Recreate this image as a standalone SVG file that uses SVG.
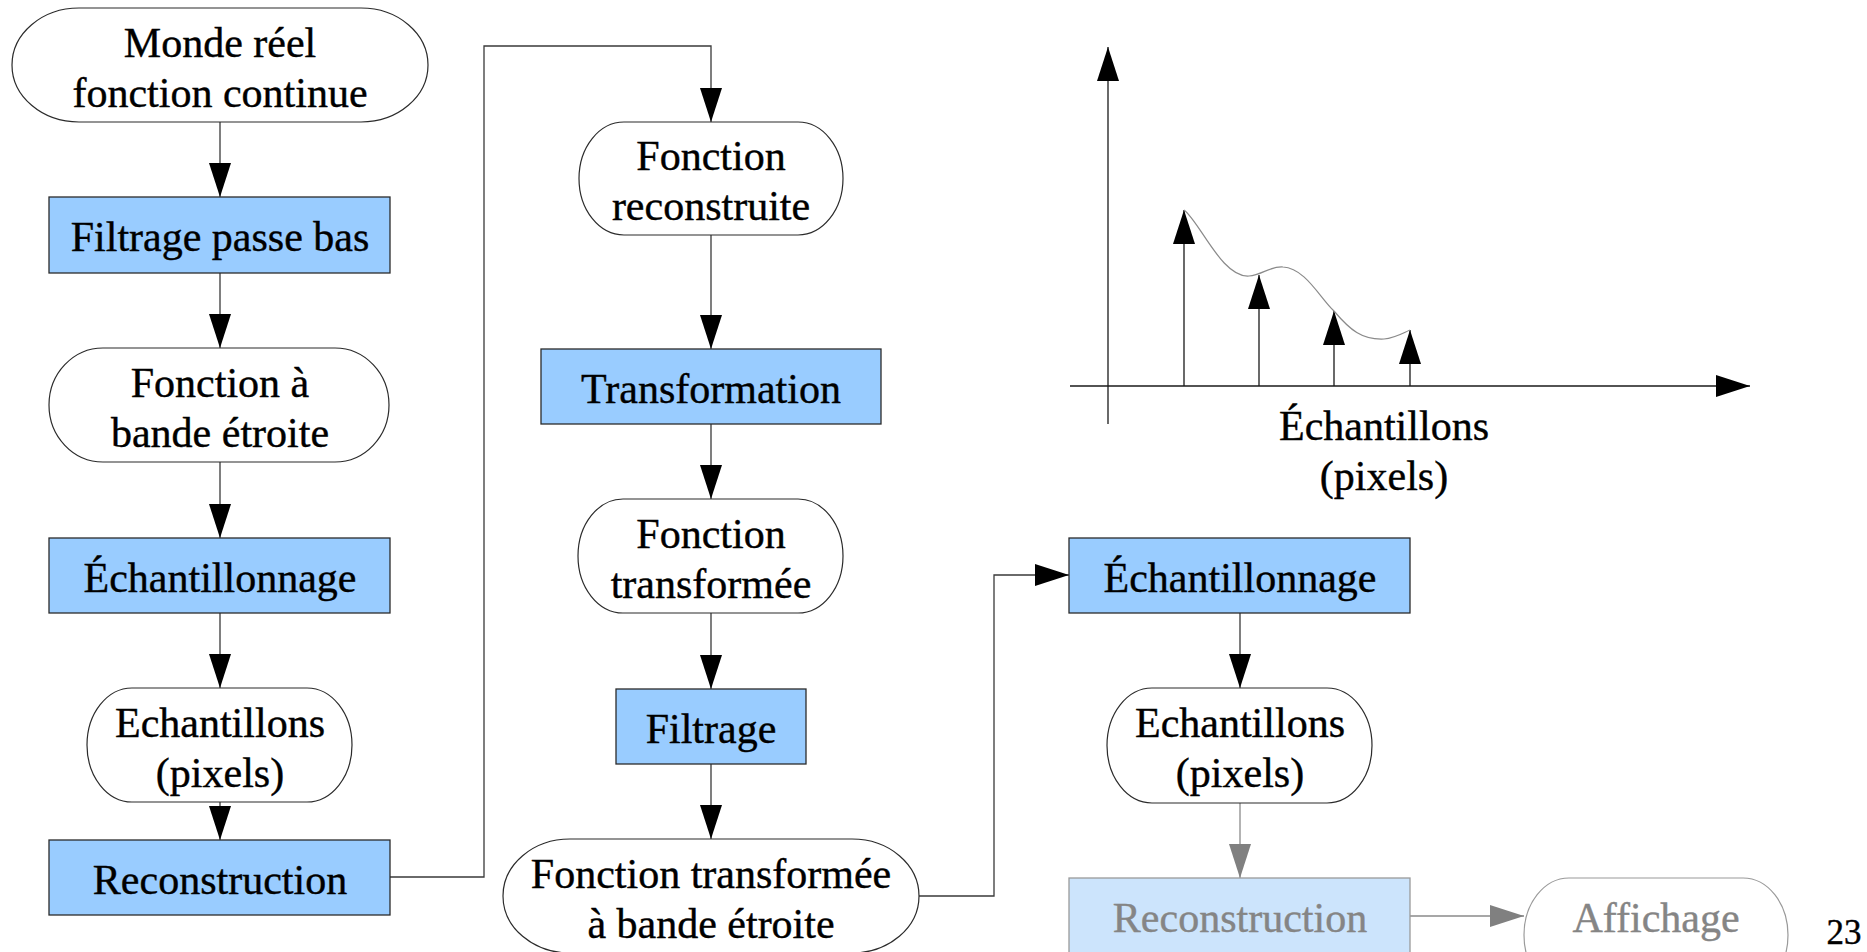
<svg xmlns="http://www.w3.org/2000/svg" width="1867" height="952" viewBox="0 0 1867 952">
  <style>
    .blk { fill: #99ccff; stroke: #2b2b2b; stroke-width: 1.3; }
    .blk-dim { fill: #cce4fc; stroke: #9a9a9a; stroke-width: 1.3; }
    .term { fill: #ffffff; stroke: #2b2b2b; stroke-width: 1.2; }
    .term-dim { fill: #ffffff; stroke: #9a9a9a; stroke-width: 1.2; }
    .lbl { font-family: "Liberation Serif", "Times New Roman", serif; font-size: 42px; text-anchor: middle; fill: #000000; stroke: #000000; stroke-width: 0.4; }
    .lbl-dim { fill: #858585; stroke: #858585; }
    .pageno { font-size: 35px; }
    .wire { fill: none; stroke: #3a3a3a; stroke-width: 1.3; }
    .wire-dim { fill: none; stroke: #8a8a8a; stroke-width: 1.3; }
    .axis { fill: none; stroke: #1a1a1a; stroke-width: 1.3; }
    .curve { fill: none; stroke: #8a8a8a; stroke-width: 1.2; }
  </style>
  <defs>
    <marker id="head" markerUnits="userSpaceOnUse" viewBox="0 0 34 22" refX="34" refY="11" markerWidth="34" markerHeight="22" orient="auto">
      <path d="M0,0 L34,11 L0,22 Z" fill="#000000"/>
    </marker>
    <marker id="head-dim" markerUnits="userSpaceOnUse" viewBox="0 0 34 22" refX="34" refY="11" markerWidth="34" markerHeight="22" orient="auto">
      <path d="M0,0 L34,11 L0,22 Z" fill="#808080"/>
    </marker>
  </defs>

  <rect width="1867" height="952" fill="#ffffff"/>

  <!-- connectors -->
  <g id="connectors">
    <line class="wire" x1="220" y1="122" x2="220" y2="197" marker-end="url(#head)"/>
    <line class="wire" x1="220" y1="273" x2="220" y2="348" marker-end="url(#head)"/>
    <line class="wire" x1="220" y1="462" x2="220" y2="538" marker-end="url(#head)"/>
    <line class="wire" x1="220" y1="613" x2="220" y2="688" marker-end="url(#head)"/>
    <line class="wire" x1="220" y1="802" x2="220" y2="840" marker-end="url(#head)"/>
    <path class="wire" d="M390,877 H484 V46 H711 V122" marker-end="url(#head)"/>

    <line class="wire" x1="711" y1="235" x2="711" y2="349" marker-end="url(#head)"/>
    <line class="wire" x1="711" y1="424" x2="711" y2="499" marker-end="url(#head)"/>
    <line class="wire" x1="711" y1="613" x2="711" y2="689" marker-end="url(#head)"/>
    <line class="wire" x1="711" y1="764" x2="711" y2="839" marker-end="url(#head)"/>
    <path class="wire" d="M919,896 H994 V575 H1069" marker-end="url(#head)"/>

    <line class="wire" x1="1240" y1="613" x2="1240" y2="688" marker-end="url(#head)"/>
    <line class="wire-dim" x1="1240" y1="803" x2="1240" y2="878" marker-end="url(#head-dim)"/>
    <line class="wire-dim" x1="1410" y1="916" x2="1524" y2="916" marker-end="url(#head-dim)"/>
  </g>

  <!-- first column -->
  <g id="monde-reel">
    <rect class="term" x="12" y="8" width="416" height="114" rx="67" ry="57"/>
    <text class="lbl" x="220" y="57">Monde réel</text>
    <text class="lbl" x="220" y="107">fonction continue</text>
  </g>
  <g id="filtrage-passe-bas">
    <rect class="blk" x="49" y="197" width="341" height="76"/>
    <text class="lbl" x="220" y="251">Filtrage passe bas</text>
  </g>
  <g id="fonction-bande-etroite">
    <rect class="term" x="49" y="348" width="340" height="114" rx="54" ry="57"/>
    <text class="lbl" x="220" y="397">Fonction à</text>
    <text class="lbl" x="220" y="447">bande étroite</text>
  </g>
  <g id="echantillonnage-1">
    <rect class="blk" x="49" y="538" width="341" height="75"/>
    <text class="lbl" x="220" y="592">Échantillonnage</text>
  </g>
  <g id="echantillons-1">
    <rect class="term" x="87" y="688" width="265" height="114" rx="45" ry="57"/>
    <text class="lbl" x="220" y="737">Echantillons</text>
    <text class="lbl" x="220" y="787">(pixels)</text>
  </g>
  <g id="reconstruction-1">
    <rect class="blk" x="49" y="840" width="341" height="75"/>
    <text class="lbl" x="220" y="894">Reconstruction</text>
  </g>

  <!-- second column -->
  <g id="fonction-reconstruite">
    <rect class="term" x="579" y="122" width="264" height="113" rx="45" ry="56.5"/>
    <text class="lbl" x="711" y="170">Fonction</text>
    <text class="lbl" x="711" y="220">reconstruite</text>
  </g>
  <g id="transformation">
    <rect class="blk" x="541" y="349" width="340" height="75"/>
    <text class="lbl" x="711" y="403">Transformation</text>
  </g>
  <g id="fonction-transformee">
    <rect class="term" x="578" y="499" width="265" height="114" rx="45" ry="57"/>
    <text class="lbl" x="711" y="548">Fonction</text>
    <text class="lbl" x="711" y="598">transformée</text>
  </g>
  <g id="filtrage">
    <rect class="blk" x="616" y="689" width="190" height="75"/>
    <text class="lbl" x="711" y="743">Filtrage</text>
  </g>
  <g id="fonction-transformee-bande-etroite">
    <rect class="term" x="503" y="839" width="416" height="114" rx="67" ry="57"/>
    <text class="lbl" x="711" y="888">Fonction transformée</text>
    <text class="lbl" x="711" y="938">à bande étroite</text>
  </g>

  <!-- third column -->
  <g id="echantillonnage-2">
    <rect class="blk" x="1069" y="538" width="341" height="75"/>
    <text class="lbl" x="1240" y="592">Échantillonnage</text>
  </g>
  <g id="echantillons-2">
    <rect class="term" x="1107" y="688" width="265" height="115" rx="45" ry="57.5"/>
    <text class="lbl" x="1240" y="737">Echantillons</text>
    <text class="lbl" x="1240" y="787">(pixels)</text>
  </g>
  <g id="reconstruction-2">
    <rect class="blk-dim" x="1069" y="878" width="341" height="76"/>
    <text class="lbl lbl-dim" x="1240" y="932">Reconstruction</text>
  </g>
  <g id="affichage">
    <rect class="term-dim" x="1524" y="878" width="264" height="114" rx="45" ry="57"/>
    <text class="lbl lbl-dim" x="1656" y="932">Affichage</text>
  </g>

  <!-- sampled signal plot -->
  <g id="plot">
    <line class="axis" x1="1108" y1="424" x2="1108" y2="47" marker-end="url(#head)"/>
    <line class="axis" x1="1070" y1="386" x2="1750" y2="386" marker-end="url(#head)"/>
    <line class="axis" x1="1184" y1="386" x2="1184" y2="210" marker-end="url(#head)"/>
    <line class="axis" x1="1259" y1="386" x2="1259" y2="275" marker-end="url(#head)"/>
    <line class="axis" x1="1334" y1="386" x2="1334" y2="311" marker-end="url(#head)"/>
    <line class="axis" x1="1410" y1="386" x2="1410" y2="330" marker-end="url(#head)"/>
    <path class="curve" d="M1184,210 C1200,222 1222,278 1249,276 C1262,275 1270,266 1283,267 C1305,268 1320,298 1334,311 C1350,330 1362,340 1384,339 C1395,338 1403,333 1410,330"/>
    <text class="lbl" x="1384" y="440">Échantillons</text>
    <text class="lbl" x="1384" y="490">(pixels)</text>
  </g>

  <g id="page-number">
    <text class="lbl pageno" x="1844" y="944">23</text>
  </g>
</svg>
